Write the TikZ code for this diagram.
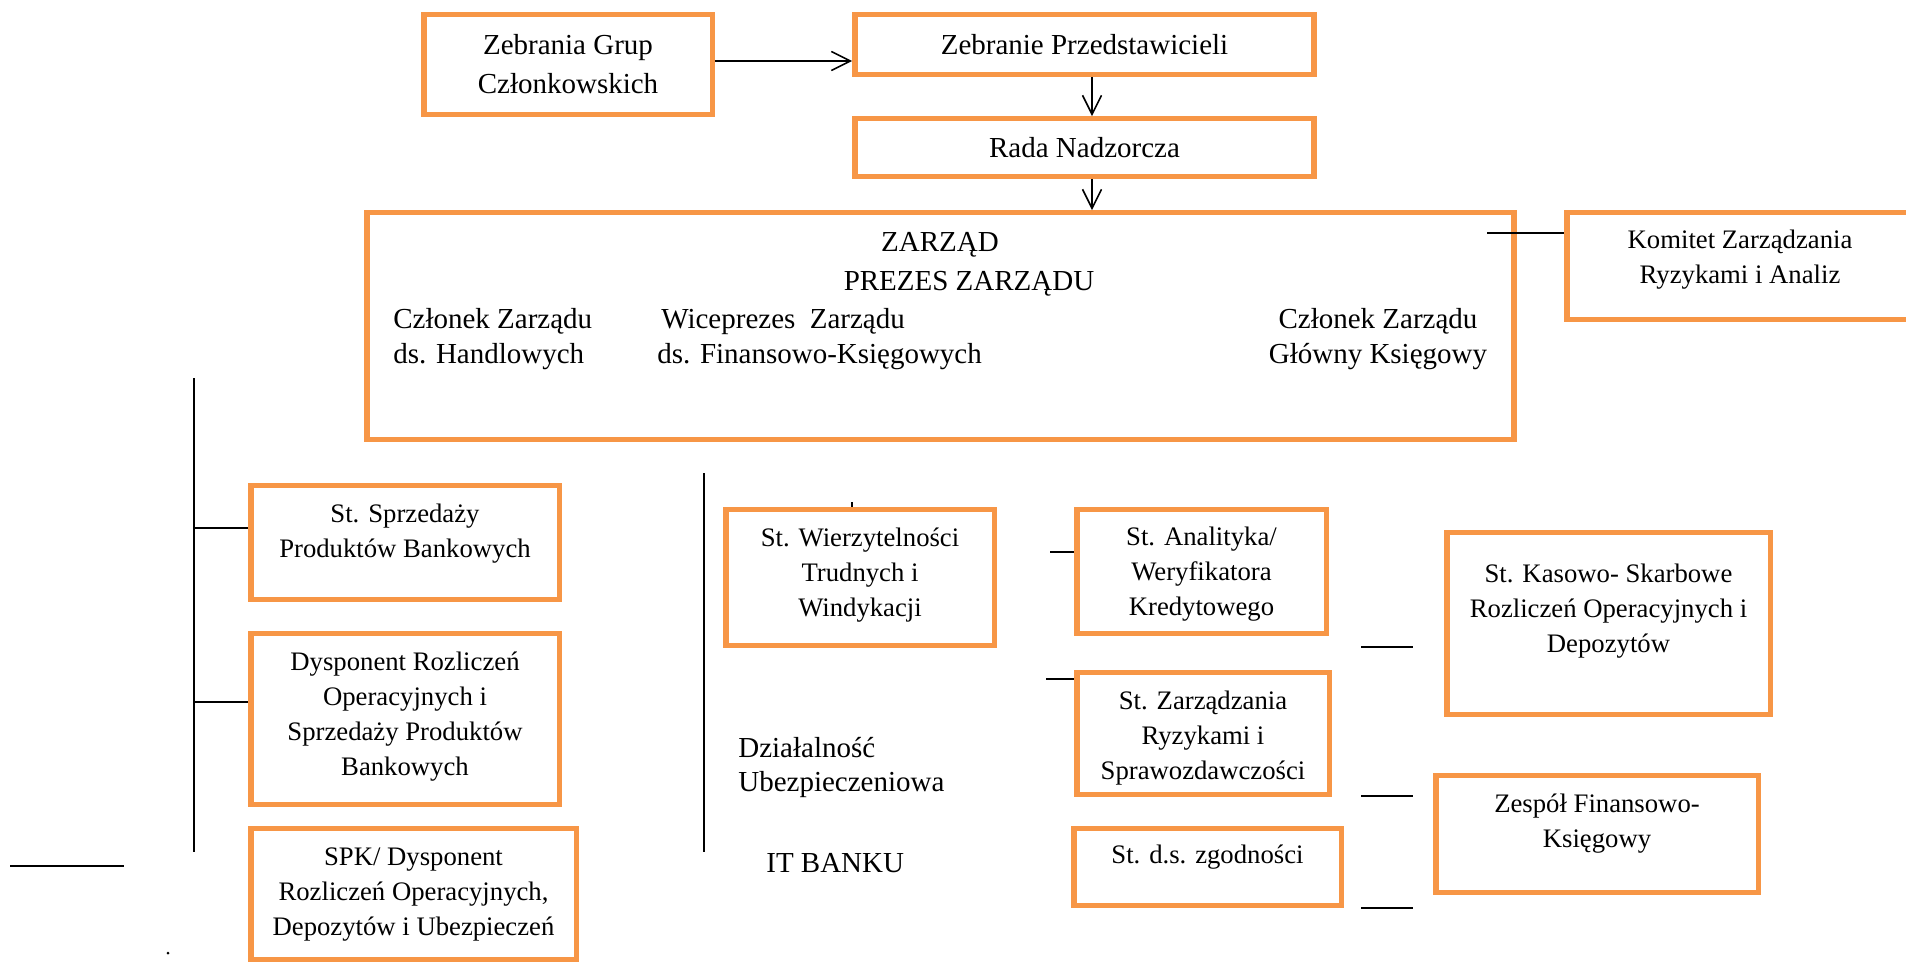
\documentclass[tikz,border=0pt]{standalone}
\usepackage{fontspec}
\setmainfont{Liberation Serif}
\usepackage{tikz}
\usetikzlibrary{arrows.meta}
\usetikzlibrary{positioning}
\definecolor{borange}{RGB}{247, 150, 70}
\newcommand{\orgfont}{\fontsize{16.5}{19.9}\selectfont}
\newcommand{\unitfont}{\fontsize{15.2}{19.9}\selectfont}
\tikzset{box/.style = {draw = borange, line width = 3.1pt, align = center, font = \orgfont, inner sep = 0}}
\tikzset{ubox/.style = {box, font = \unitfont}}
\tikzset{txt/.style = {align = center, font = \orgfont, inner sep = 0}}
\tikzset{utxt/.style = {txt, font = \unitfont}}
\tikzset{ln/.style = {line width = 0.9pt}}
\tikzset{arr/.style = {ln, -{Straight Barb[length = 0.38cm, width = 0.38cm]}}}

\begin{document}
\begin{tikzpicture}[x=0.02cm, y=-0.02cm] % 1 unit = 1 px of the page
      \useasboundingbox (0, 0) rectangle (1906, 963);

      % top of the chart
      \node [box, minimum width = 5.77cm, minimum height = 1.99cm, font = \fontsize{16.5}{22.2}\selectfont] (zgc) at (568, 64.5) {Zebrania Grup\\Członkowskich};
      \node [box, minimum width = 9.19cm, minimum height = 1.19cm] (zp) at (1084.5, 44.5) {Zebranie Przedstawicieli};
      \node [box, minimum width = 9.19cm, minimum height = 1.15cm] (rn) at (1084.5, 147.5) {Rada Nadzorcza};

      \node [box, minimum width = 22.95cm, minimum height = 4.53cm] (zarz) at (940.5, 326) {};
      \node [txt] (zarzad) at (940, 245) {ZARZĄD};
      \node [txt] (prezes) at (969, 283.5) {PREZES ZARZĄDU};
      \node [txt, anchor = west, align = left] (czh) at (393, 339) {Członek Zarządu\\ds. Handlowych};
      \node [txt, anchor = west, align = left] (wice) at (657, 339) {\hspace*{0.08cm}Wiceprezes\ \ Zarządu\\ds. Finansowo-Księgowych};
      \node [txt] (czk) at (1378, 339) {Członek Zarządu\\Główny Księgowy};

      \node [ubox, minimum width = 6.93cm, minimum height = 2.13cm,
             label = {[utxt, yshift = 0.12cm]center:{Komitet Zarządzania\\Ryzykami i Analiz}}] (kom) at (1740, 266) {};

      \draw [arr] ([yshift = 0.07cm]zgc.east) -- ([yshift = 0.07cm]zgc.east -| zp.west);
      \draw [arr] ([xshift = 0.15cm]zp.south) -- ([xshift = 0.15cm]rn.north);
      \draw [arr] ([xshift = 0.15cm]rn.south) -- ([xshift = 0.15cm]rn.south |- zarz.north);

      \coordinate (zk) at (1487, 233);
      \draw [ln] (zk) -- (zk -| kom.west);

      % left column
      \node [ubox, minimum width = 6.17cm, minimum height = 2.27cm,
             label = {[utxt, yshift = 0.18cm]center:{St. Sprzedaży\\Produktów Bankowych}}] (sprz) at (405, 542.5) {};
      \node [ubox, minimum width = 6.17cm, minimum height = 3.41cm,
             label = {[utxt, yshift = 0.04cm]center:{Dysponent Rozliczeń\\Operacyjnych i\\Sprzedaży Produktów\\Bankowych}}] (dysp) at (405, 719) {};
      \node [ubox, minimum width = 6.51cm, minimum height = 2.61cm,
             label = {[utxt, yshift = -0.01cm]center:{SPK/ Dysponent\\Rozliczeń Operacyjnych,\\Depozytów i Ubezpieczeń}}] (spk) at (413.5, 894) {};

      \coordinate (lv-top) at (194, 378);
      \coordinate (lv-bot) at (194, 852);
      \draw [line width = 0.8pt] (lv-top) -- (lv-bot);
      \coordinate (lv-a) at (194, 528);
      \coordinate (lv-b) at (194, 702);
      \draw [ln] (lv-a) -- (lv-a -| sprz.west);
      \draw [ln] (lv-b) -- (lv-b -| dysp.west);

      \coordinate (sl-a) at (10, 866);
      \coordinate (sl-b) at (124, 866);
      \draw [line width = 1.2pt] (sl-a) -- (sl-b);
      \fill (168, 953) circle (0.03cm);

      % middle column
      \coordinate (mv-top) at (704, 473);
      \coordinate (mv-bot) at (704, 852);
      \draw [line width = 0.8pt] (mv-top) -- (mv-bot);

      \node [ubox, minimum width = 5.37cm, minimum height = 2.71cm,
             label = {[utxt, yshift = 0.05cm]center:{St. Wierzytelności\\Trudnych i\\Windykacji}}] (wierz) at (860, 577.5) {};
      \coordinate (tk) at (852, 502);
      \draw [line width = 0.6pt] (tk) -- (tk |- wierz.north);

      \node [txt, anchor = west, align = left] (dzial) at (738, 767.5) {Działalność\\Ubezpieczeniowa};
      \node [txt, anchor = west] (itb) at (766, 863) {IT BANKU};

      \node [ubox, minimum width = 4.99cm, minimum height = 2.47cm,
             label = {[utxt, yshift = -0.05cm]center:{St. Analityka/\\Weryfikatora\\Kredytowego}}] (anal) at (1201.5, 571.5) {};
      \node [ubox, minimum width = 5.05cm, minimum height = 2.43cm,
             label = {[utxt, yshift = -0.1cm]center:{St. Zarządzania\\Ryzykami i\\Sprawozdawczości}}] (zrs) at (1203, 733.5) {};
      \node [ubox, minimum width = 5.35cm, minimum height = 1.53cm,
             label = {[utxt, yshift = 0.19cm]center:{St. d.s. zgodności}}] (zgod) at (1207.5, 867) {};

      \coordinate (ta) at (1050, 552);
      \coordinate (tz) at (1046, 679);
      \draw [ln] (ta) -- (ta -| anal.west);
      \draw [ln] (tz) -- (tz -| zrs.west);

      % right column
      \node [ubox, minimum width = 6.47cm, minimum height = 3.63cm,
             label = {[utxt, yshift = 0.24cm]center:{St. Kasowo- Skarbowe\\Rozliczeń Operacyjnych i\\Depozytów}}] (kas) at (1608.5, 623.5) {};
      \node [ubox, minimum width = 6.45cm, minimum height = 2.33cm,
             label = {[utxt, yshift = 0.21cm]center:{Zespół Finansowo-\\Księgowy}}] (zfk) at (1597, 834) {};

      \foreach \y [count = \i] in {647, 796, 908} {
        \coordinate (st\i-a) at (1361, \y);
        \coordinate (st\i-b) at (1413, \y);
        \draw [ln] (st\i-a) -- (st\i-b);
      }
    \end{tikzpicture}
\end{document}
